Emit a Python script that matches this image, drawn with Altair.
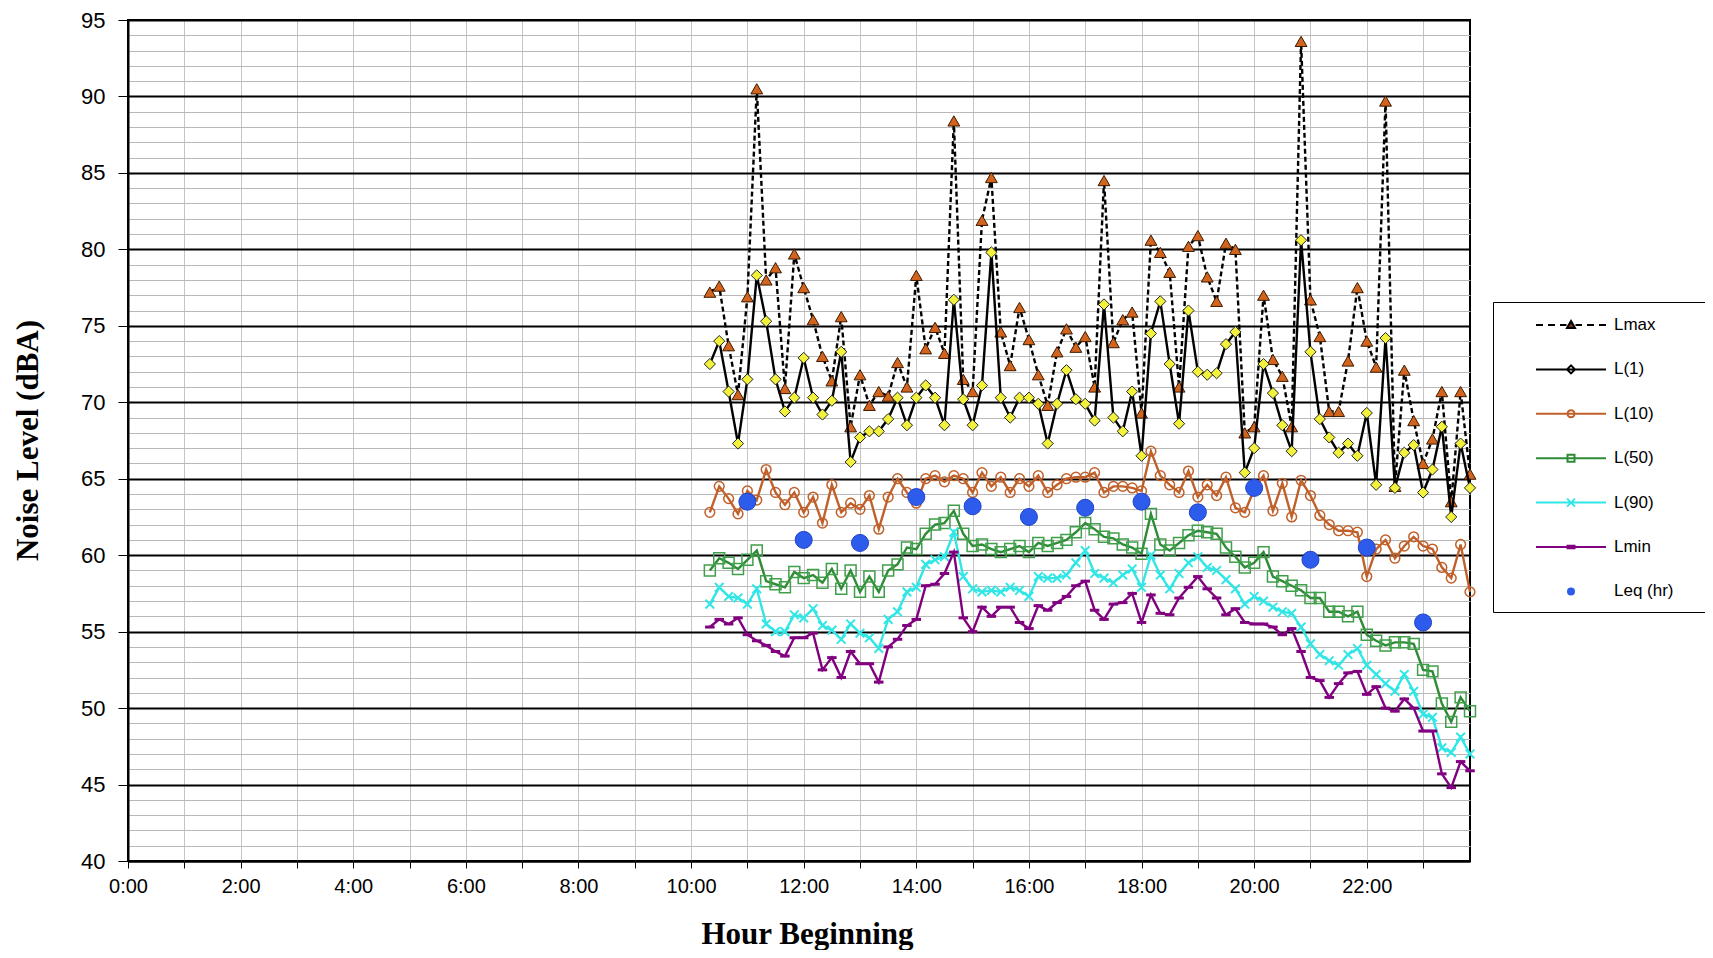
import altair as alt
import pandas as pd

# ---------------- data ----------------
TIMES = [
    "10:20", "10:30", "10:40", "10:50",
    "11:00", "11:10", "11:20", "11:30", "11:40", "11:50",
    "12:00", "12:10", "12:20", "12:30", "12:40", "12:50",
    "13:00", "13:10", "13:20", "13:30", "13:40", "13:50",
    "14:00", "14:10", "14:20", "14:30", "14:40", "14:50",
    "15:00", "15:10", "15:20", "15:30", "15:40", "15:50",
    "16:00", "16:10", "16:20", "16:30", "16:40", "16:50",
    "17:00", "17:10", "17:20", "17:30", "17:40", "17:50",
    "18:00", "18:10", "18:20", "18:30", "18:40", "18:50",
    "19:00", "19:10", "19:20", "19:30", "19:40", "19:50",
    "20:00", "20:10", "20:20", "20:30", "20:40", "20:50",
    "21:00", "21:10", "21:20", "21:30", "21:40", "21:50",
    "22:00", "22:10", "22:20", "22:30", "22:40", "22:50",
    "23:00", "23:10", "23:20", "23:30", "23:40", "23:50",
]

LMAX = [77.2, 77.6, 73.7, 70.5, 76.9, 90.5, 78.0, 78.8, 70.9, 79.7,
        77.5, 75.4, 73.0, 71.4, 75.6, 68.4, 71.8, 69.8, 70.7, 70.4,
        72.6, 71.0, 78.3, 73.5, 74.9, 73.2, 88.4, 71.5, 70.7, 81.9,
        84.7, 74.6, 72.4, 76.2, 74.1, 71.8, 69.8, 73.3, 74.8, 73.6,
        74.3, 71.0, 84.5, 73.9, 75.4, 75.9, 69.3, 80.6, 79.8, 78.5,
        71.0, 80.2, 80.9, 78.2, 76.6, 80.4, 80.0, 68.0, 68.4, 77.0,
        72.8, 71.7, 68.4, 93.6, 76.7, 74.3, 69.4, 69.4, 72.7, 77.5,
        74.0, 72.3, 89.7, 64.5, 72.1, 68.8, 66.0, 67.6, 70.7, 63.5,
        70.7, 65.3]

L1 = [72.5, 74.0, 70.7, 67.3, 71.5, 78.3, 75.3, 71.5, 69.4, 70.3,
      72.9, 70.3, 69.2, 70.1, 73.3, 66.1, 67.7, 68.1, 68.1, 68.9,
      70.3, 68.5, 70.3, 71.1, 70.3, 68.5, 76.7, 70.2, 68.5, 71.1,
      79.8, 70.3, 69.0, 70.3, 70.3, 69.9, 67.3, 69.9, 72.1, 70.2,
      69.9, 68.8, 76.4, 69.0, 68.1, 70.7, 66.5, 74.5, 76.6, 72.5,
      68.6, 76.0, 72.0, 71.8, 71.9, 73.8, 74.6, 65.4, 67.0, 72.5,
      70.6, 68.5, 66.8, 80.6, 73.3, 68.9, 67.7, 66.7, 67.3, 66.5,
      69.3, 64.6, 74.2, 64.4, 66.7, 67.2, 64.1, 65.6, 68.4, 62.5,
      67.3, 64.4]

L10 = [62.8, 64.5, 63.7, 62.7, 64.2, 63.6, 65.6, 64.1, 63.3, 64.1,
       62.8, 63.8, 62.1, 64.6, 62.8, 63.4, 63.0, 63.9, 61.7, 63.8,
       65.0, 64.1, 63.4, 65.0, 65.2, 64.8, 65.2, 65.0, 64.1, 65.4,
       64.5, 65.1, 64.1, 65.0, 64.5, 65.2, 64.1, 64.6, 65.0, 65.1,
       65.1, 65.4, 64.1, 64.5, 64.5, 64.4, 64.2, 66.8, 65.2, 64.6,
       64.1, 65.5, 63.8, 64.6, 63.9, 65.1, 63.1, 62.8, 64.3, 65.2,
       62.9, 64.7, 62.5, 64.9, 63.9, 62.6, 62.0, 61.6, 61.6, 61.5,
       58.6, 60.4, 61.0, 59.8, 60.6, 61.2, 60.6, 60.4, 59.2, 58.5,
       60.7, 57.6]

L50 = [59.0, 59.8, 59.5, 59.1, 59.7, 60.3, 58.3, 58.1, 57.9, 58.9,
       58.5, 58.7, 58.2, 59.1, 57.8, 59.0, 57.6, 58.6, 57.6, 59.0,
       59.4, 60.5, 60.4, 61.4, 62.0, 62.1, 62.9, 61.4, 60.6, 60.7,
       60.4, 60.2, 60.4, 60.6, 60.2, 60.8, 60.6, 60.8, 61.0, 61.5,
       62.1, 61.7, 61.2, 61.1, 60.7, 60.5, 60.1, 62.7, 60.7, 60.3,
       60.8, 61.3, 61.6, 61.5, 61.4, 60.5, 59.9, 59.2, 59.5, 60.2,
       58.6, 58.3, 58.0, 57.7, 57.2, 57.2, 56.3, 56.3, 56.0, 56.3,
       54.8, 54.4, 54.1, 54.3, 54.3, 54.2, 52.5, 52.4, 50.3, 49.1,
       50.7, 49.8]

L90 = [56.8, 57.9, 57.3, 57.2, 56.8, 57.8, 55.5, 55.0, 55.0, 56.1,
       55.9, 56.5, 55.4, 55.1, 54.5, 55.5, 54.9, 54.6, 53.9, 55.8,
       56.3, 57.6, 57.9, 59.4, 59.7, 59.9, 61.5, 58.6, 57.8, 57.6,
       57.7, 57.6, 57.9, 57.7, 57.3, 58.6, 58.5, 58.5, 58.7, 59.5,
       60.3, 58.8, 58.5, 58.2, 58.7, 59.1, 57.9, 60.0, 58.7, 57.8,
       58.8, 59.5, 59.9, 59.2, 59.0, 58.4, 57.8, 56.8, 57.3, 57.0,
       56.6, 56.3, 56.2, 55.3, 54.2, 53.5, 53.1, 52.8, 53.5, 53.9,
       52.8, 52.2, 51.6, 51.1, 52.2, 51.1, 49.6, 49.4, 47.4, 47.1,
       48.1, 47.0]

LMIN = [55.3, 55.8, 55.5, 55.9, 54.8, 54.4, 54.1, 53.7, 53.4, 54.6,
        54.6, 54.9, 52.5, 53.3, 52.0, 53.7, 52.9, 52.9, 51.7, 54.0,
        54.5, 55.4, 55.8, 58.0, 58.1, 58.8, 60.2, 55.9, 55.0, 56.6,
        56.0, 56.6, 56.6, 55.6, 55.2, 56.7, 56.4, 56.9, 57.3, 58.0,
        58.3, 56.4, 55.8, 56.8, 56.9, 57.5, 55.6, 57.4, 56.2, 56.1,
        57.2, 57.9, 58.6, 57.8, 57.2, 56.1, 56.5, 55.6, 55.5, 55.5,
        55.3, 54.8, 55.2, 53.7, 52.0, 51.8, 50.7, 51.6, 52.3, 52.4,
        50.9, 51.4, 50.0, 49.8, 50.6, 50.0, 48.5, 48.5, 45.7, 44.8,
        46.5, 45.9]

LEQ_TIMES = ["11:00", "12:00", "13:00", "14:00", "15:00", "16:00", "17:00",
             "18:00", "19:00", "20:00", "21:00", "22:00", "23:00"]
LEQ = [63.5, 61.0, 60.8, 63.8, 63.2, 62.5, 63.1, 63.5, 62.8, 64.4, 59.7, 60.5, 55.6]

SERIES = ["Lmax", "L(1)", "L(10)", "L(50)", "L(90)", "Lmin", "Leq (hr)"]
X_TICKS = list(range(0, 24))
Y_TICKS = list(range(40, 96))


def to_hours(t):
    h, m = t.split(":")
    return int(h) + int(m) / 60.0


rows = []
for name, vals in zip(SERIES[:6], [LMAX, L1, L10, L50, L90, LMIN]):
    for t, v in zip(TIMES, vals):
        rows.append({"hour": to_hours(t), "value": v, "series": name})
for t, v in zip(LEQ_TIMES, LEQ):
    rows.append({"hour": to_hours(t), "value": v, "series": "Leq (hr)"})
df = pd.DataFrame(rows)

# ---------------- styles ----------------
C_BROWN = "#C0602A"
C_GREEN = "#2E8B36"
C_CYAN = "#33E6E6"
C_PURPLE = "#800080"
C_BLUE = "#2D5BEB"

xscale = alt.Scale(domain=[0, 23 + 50 / 60], nice=False, zero=False)
yscale = alt.Scale(domain=[40, 95], nice=False, zero=False)

x_axis = alt.Axis(
    title="Hour Beginning",
    values=X_TICKS,
    tickCount=100,
    labelExpr="datum.value % 2 == 0 ? datum.value + ':00' : ''",
    labelFlush=False,
    labelOverlap=False,
    labelFont="Liberation Sans",
    labelFontSize=20,
    labelColor="black",
    labelPadding=8,
    tickColor="black",
    tickSize=7,
    tickWidth=1,
    domainColor="black",
    domainWidth=2,
    grid=True,
    gridColor="#c4c4c4",
    gridWidth=1,
    titleFont="Liberation Serif",
    titleFontWeight="bold",
    titleFontSize=31,
    titleColor="black",
    titleX=679,
    titleY=73,
    titleAlign="center",
    titleBaseline="middle",
)

y_axis = alt.Axis(
    title="Noise Level (dBA)",
    values=Y_TICKS,
    tickCount=100,
    labelExpr="datum.value % 5 == 0 ? '' + datum.value : ''",
    labelFlush=False,
    labelOverlap=False,
    labelFont="Liberation Sans",
    labelFontSize=22,
    labelColor="black",
    labelPadding=13,
    tickColor="black",
    tickSize=10,
    tickWidth=1,
    tickOpacity={"condition": {"test": "datum.value % 5 == 0", "value": 1}, "value": 0},
    domainColor="black",
    domainWidth=2,
    grid=True,
    gridColor={"condition": {"test": "datum.value % 5 == 0", "value": "black"}, "value": "#b8b8b8"},
    gridWidth={"condition": {"test": "datum.value % 5 == 0", "value": 2}, "value": 1},
    titleFont="Liberation Serif",
    titleFontWeight="bold",
    titleFontSize=31,
    titleColor="black",
    titleAngle=270,
    titleX=-100,
    titleY=420,
    titleAlign="center",
    titleBaseline="middle",
)

base = alt.Chart(df)
X = alt.X("hour:Q", scale=xscale, axis=x_axis)
Y = alt.Y("value:Q", scale=yscale, axis=y_axis)
Xn = alt.X("hour:Q", scale=xscale)
Yn = alt.Y("value:Q", scale=yscale)


def line_layer(name, color, dash=None, axes=False, sw=2.4):
    kw = dict(color=color, strokeWidth=sw, opacity=1)
    if dash:
        kw["strokeDash"] = dash
    return base.transform_filter(alt.datum.series == name).mark_line(**kw).encode(
        x=X if axes else Xn, y=Y if axes else Yn
    )


def point_layer(name, shape, size, fill, stroke, sw=1.0):
    return base.transform_filter(alt.datum.series == name).mark_point(
        shape=shape, size=size, fill=fill, stroke=stroke, strokeWidth=sw,
        filled=True, opacity=1
    ).encode(x=Xn, y=Yn)


layers = [
    line_layer("Lmax", "black", dash=[5, 3], axes=True),
    point_layer("Lmax", "triangle-up", 140, "#D2641E", "#3a1a00", 1),
    line_layer("L(1)", "black"),
    point_layer("L(1)", "diamond", 125, "#F2F23C", "#222222", 1),
    line_layer("L(10)", C_BROWN),
    point_layer("L(10)", "circle", 95, "transparent", C_BROWN, 1.5),
    line_layer("L(50)", C_GREEN),
    point_layer("L(50)", "square", 120, "transparent", "#3f9f4a", 1.5),
    line_layer("L(90)", C_CYAN),
    point_layer("L(90)", "M-1,-1L1,1M-1,1L1,-1", 75, "transparent", C_CYAN, 2),
    line_layer("Lmin", C_PURPLE),
    point_layer("Lmin", "M-1,0L1,0", 90, "transparent", C_PURPLE, 3),
    point_layer("Leq (hr)", "circle", 290, C_BLUE, "#2143c8", 1),
]

# legend: line-with-marker symbols drawn as custom paths
LEG_PATHS = [
    "M-3.5,0H-2.8M-2.3,0H-1.6M-1.1,0H-0.45M0.45,0H1.1M1.6,0H2.3M2.8,0H3.5M0,-0.4L0.4,0.3L-0.4,0.3Z",
    "M-3.5,0H3.5M0,-0.4L0.4,0L0,0.4L-0.4,0Z",
    "M-3.5,0H3.5M0.35,0A0.35,0.35 0 1,1 -0.35,0A0.35,0.35 0 1,1 0.35,0Z",
    "M-3.5,0H3.5M-0.35,-0.35H0.35V0.35H-0.35Z",
    "M-3.5,0H3.5M-0.4,-0.4L0.4,0.4M-0.4,0.4L0.4,-0.4",
    "M-3.5,0H3.5M-0.35,-0.12H0.35V0.12H-0.35Z",
    "M0.3,0A0.3,0.3 0 1,1 -0.3,0A0.3,0.3 0 1,1 0.3,0Z",
]
LEG_STROKE = ["black", "black", C_BROWN, C_GREEN, C_CYAN, C_PURPLE, C_BLUE]
LEG_FILL = ["#7a3510", "white", "transparent", "transparent", "transparent", C_PURPLE, C_BLUE]

leg = alt.Legend(
    title=None, orient="none", legendX=1365, legendY=282,
    padding=12, rowPadding=25.4, symbolSize=400, symbolOffset=55,
    labelOffset=32, labelFont="Liberation Sans", labelFontSize=17,
    labelColor="black", labelLimit=0, strokeColor="black", fillColor="white",
    symbolStrokeWidth=2,
    labelExpr="datum.label + '\u2800\u2800'",
)

legend_layer = base.transform_filter("false").mark_point(filled=True, opacity=1).encode(
    x=Xn, y=Yn,
    shape=alt.Shape("series:N", scale=alt.Scale(domain=SERIES, range=LEG_PATHS), legend=leg),
    stroke=alt.Stroke("series:N", scale=alt.Scale(domain=SERIES, range=LEG_STROKE), legend=leg),
    fill=alt.Fill("series:N", scale=alt.Scale(domain=SERIES, range=LEG_FILL), legend=leg),
)

chart = alt.layer(*layers, legend_layer).properties(
    width=1342,
    height=841,
    padding={"left": 120, "top": 12, "right": 235, "bottom": 89},
    autosize=alt.AutoSizeParams(type="none"),
    background="white",
).configure_view(stroke="black", strokeWidth=2)

chart.save("out.html", embed_options={"renderer": "svg", "actions": False})
